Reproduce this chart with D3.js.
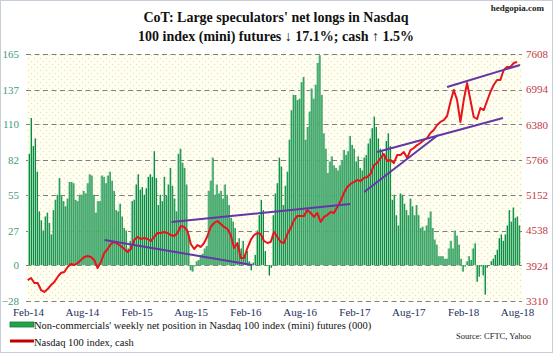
<!DOCTYPE html>
<html>
<head>
<meta charset="utf-8">
<script src="https://cdn.jsdelivr.net/npm/d3@7"></script>
<style>
  body { margin: 0; background: #fff; }
  #chart text { font-family: "Liberation Serif", "Times New Roman", serif; }
</style>
</head>
<body>
<div id="chart"></div>
<script>
// weekly net position of non-commercials, (000) contracts
const netLongs = [
  87, 115, 93, 99, 73, 42, 35, 27, 38, 41, 33, 24, 43, 51, 55, 68, 54, 50, 46, 52, 65, 65, 64, 51, 50, 55, 55, 58, 56, 64, 71, 70, 55, 41, 50, 50, 70, 69, 64, 70, 73, 66, 58,
  43, 42, 48, 38, 29, 27, 13, 19, 50, 51, 63, 71, 59, 61, 55, 60, 69, 71, 69, 89, 68, 47, 55, 50, 69, 54, 63, 76, 62, 52, 42, 87, 91, 80, 76, 63, 24, -4, -5, -1, 3, 4, 8, 9, 13, 15, 58,
  66, 84, 55, 63, 56, 58, 52, 63, 55, 47, 37, 34, 29, 16, 21, 13, 19, 8, 11, 3, -4, 2, 8, 27, 39, 51, 43, 11, 0, -8, -2, 39, 56, 64, 84, 77, 47, 62, 73, 98, 121, 133, 133, 129, 130, 143, 147,
  98, 108, 120, 138, 130, 141, 158, 164, 133, 103, 91, 72, 81, 85, 78, 76, 74, 78, 82, 90, 86, 89, 101, 94, 91, 81, 85, 76, 74, 84, 86, 95, 99, 107, 116, 108, 99, 91, 89, 86, 97, 103, 93, 51, 55, 39, 31,
  56, 55, 48, 43, 39, 52, 46, 39, 47, 39, 29, 30, 27, 31, 37, 42, 29, 20, 16, 7, 7, 7, 5, 5, 13, 19, 13, 27, 23, 16, 5, -5, -1, 3, 7, 4, 13, 17, -13, -9, -1, -8, -23, -2, 0, 3, 5, 8, 12,
  21, 24, 19, 24, 31, 43, 34, 45, 37, 38, 31
];

// Nasdaq 100 cash, sampled along the period
const nasdaqCash = [
  3675, 3710, 3623, 3623, 3501, 3467, 3519, 3588, 3641, 3728,
  3797, 3815, 3902, 3954, 3936, 3971, 4023, 4076, 4093, 4076,
  4023, 3884, 3989, 4145, 4215, 4302, 4337, 4302, 4267, 4215,
  4163, 4215, 4371, 4424, 4389, 4406, 4389, 4354, 4424, 4493,
  4493, 4511, 4493, 4458, 4441, 4493, 4615, 4598, 4528, 4302,
  4215, 4284, 4250, 4319, 4441, 4598, 4667, 4702, 4650, 4598,
  4563, 4458, 4232, 4319, 4058, 4058, 4232, 4371, 4458, 4493,
  4476, 4354, 4319, 4337, 4511, 4424, 4337, 4319, 4476, 4580,
  4719, 4789, 4789, 4789, 4893, 4841, 4772, 4841, 4685, 4772,
  4806, 4859, 4841, 4946, 5050, 5189, 5294, 5346, 5381, 5415,
  5398, 5450, 5468, 5520, 5676, 5711, 5798, 5868, 5746, 5763,
  5711, 5850, 5850, 5903, 5798, 5937, 5972, 6024, 6059, 6111,
  6146, 6233, 6285, 6372, 6425, 6459, 6529, 6773, 6981, 6807,
  6425, 6807, 7103, 6807, 6512, 6477, 6668, 6633, 6790, 6947,
  7068, 7155, 7155, 7329, 7382, 7382, 7451, 7469
];

// trend lines: [start sample, start value, end sample, end value]
const trendLines = [
  [23.1, 4371, 67.5, 3936],
  [43.2, 4685, 96.9, 4998],
  [101.1, 5207, 123.3, 6198],
  [105, 5903, 142.8, 6494],
  [126, 7034, 147.9, 7416]
];

const leftTicks = [-28, 0, 27, 55, 82, 110, 137, 165];
const rightTicks = [3310, 3924, 4538, 5152, 5766, 6380, 6994, 7608];
const xTickLabels = ["Feb-14", "Aug-14", "Feb-15", "Aug-15", "Feb-16", "Aug-16", "Feb-17", "Aug-17", "Feb-18", "Aug-18"];

const titleLines = ["CoT: Large speculators' net longs in Nasdaq", "100 index (mini) futures \u2193 17.1%; cash \u2191 1.5%"];
const legendItems = ["Non-commercials' weekly net position in Nasdaq 100 index (mini) futures (000)", "Nasdaq 100 index, cash"];

class cotChart {
  constructor(_el) {
    this.el = _el;
    this.initVis();
  }

  initVis() {
    let vis = this;
    const width = 553, height = 353;
    const plot = {left: 26, right: 522, top: 54, bottom: 301};

    vis.svg = d3.select(vis.el).append("svg").attr("width", width).attr("height", height);

    const defs = vis.svg.append("defs");
    const pat = defs.append("pattern").attr("id", "dots").attr("patternUnits", "userSpaceOnUse")
      .attr("width", 6).attr("height", 6);
    pat.append("rect").attr("width", 6).attr("height", 6).attr("fill", "#fffff3");
    pat.append("circle").attr("cx", 1.5).attr("cy", 1.5).attr("r", 0.7).attr("fill", "#ece3a8");
    pat.append("circle").attr("cx", 4.5).attr("cy", 4.5).attr("r", 0.7).attr("fill", "#ece3a8");

    vis.svg.append("rect").attr("x", 0.5).attr("y", 0.5).attr("width", width - 1).attr("height", height - 1)
      .attr("fill", "#fff").attr("stroke", "#c6cfd9");

    vis.svg.append("rect").attr("x", plot.left).attr("y", plot.top)
      .attr("width", plot.right - plot.left).attr("height", plot.bottom - plot.top).attr("fill", "url(#dots)");

    // scales
    const parseT = d3.timeParse("%b-%y");
    vis.xTime = d3.scaleTime().domain([parseT("Feb-14"), parseT("Aug-18")]).range([28, 517]);
    vis.yLeft = d3.scaleLinear().domain([-28, 165]).range([plot.bottom, plot.top]);
    vis.yRight = d3.scaleLinear().domain([3310, 7608]).range([plot.bottom, plot.top]);
    vis.xBar = d3.scaleLinear().domain([0, netLongs.length - 1])
      .range([vis.xTime(new Date(2014, 1, 4)), vis.xTime(new Date(2018, 7, 8))]);
    vis.xLine = d3.scaleLinear().domain([0, nasdaqCash.length - 1])
      .range([vis.xTime(new Date(2014, 0, 31)), vis.xTime(new Date(2018, 7, 1))]);

    // grid
    vis.svg.append("g").selectAll("line").data(leftTicks).join("line")
      .attr("x1", plot.left).attr("x2", plot.right)
      .attr("y1", d => Math.round(vis.yLeft(d)) + 0.5).attr("y2", d => Math.round(vis.yLeft(d)) + 0.5)
      .attr("stroke", "#7f7f7f").attr("stroke-dasharray", "5,3.5");

    // axes
    const gl = vis.svg.append("g").attr("transform", "translate(19,0)")
      .call(d3.axisLeft(vis.yLeft).tickValues(leftTicks).tickSize(0).tickPadding(0));
    gl.select(".domain").remove();
    gl.selectAll("text").attr("fill", "#3f9a7c").style("font-size", "11px");

    const gr = vis.svg.append("g").attr("transform", "translate(526,0)")
      .call(d3.axisRight(vis.yRight).tickValues(rightTicks).tickFormat(d3.format("d")).tickSize(0).tickPadding(0));
    gr.select(".domain").remove();
    gr.selectAll("text").attr("fill", "#c0393f").style("font-size", "11px");

    const gx = vis.svg.append("g").attr("transform", "translate(0,308)")
      .call(d3.axisBottom(vis.xTime).tickValues(xTickLabels.map(parseT)).tickFormat(d3.timeFormat("%b-%y")).tickSize(0).tickPadding(0));
    gx.select(".domain").remove();
    gx.selectAll("text").attr("fill", "#1e2f5a").style("font-size", "11px");

    // title
    vis.svg.append("g").selectAll("text").data(titleLines).join("text")
      .attr("x", 276).attr("y", (d, i) => 22 + i * 19)
      .attr("text-anchor", "middle").style("font-size", "14px").style("font-weight", "bold")
      .attr("fill", "#111").text(d => d);

    vis.svg.append("text").attr("x", 544).attr("y", 11).attr("text-anchor", "end")
      .style("font-size", "9px").style("font-weight", "bold").attr("fill", "#222").text("hedgopia.com");

    // legend
    const lg = vis.svg.append("g");
    lg.append("rect").attr("x", 10).attr("y", 322).attr("width", 24).attr("height", 5)
      .attr("fill", "#22a34a").attr("stroke", "#137a33").attr("stroke-width", 0.8);
    lg.append("line").attr("x1", 10).attr("x2", 34).attr("y1", 341).attr("y2", 341)
      .attr("stroke", "#c00000").attr("stroke-width", 3);
    lg.selectAll("text").data(legendItems).join("text")
      .attr("x", 34).attr("y", (d, i) => 328.5 + i * 17)
      .style("font-size", "10.5px").attr("fill", "#111").text(d => d);

    vis.svg.append("text").attr("x", 531).attr("y", 339).attr("text-anchor", "end")
      .style("font-size", "8.5px").attr("fill", "#222").text("Source: CFTC, Yahoo");

    vis.updateVis();
  }

  updateVis() {
    let vis = this;
    const y0 = vis.yLeft(0);

    vis.svg.append("g").selectAll("rect").data(netLongs).join("rect")
      .attr("x", (d, i) => vis.xBar(i) - 1)
      .attr("width", 2)
      .attr("y", d => Math.min(vis.yLeft(d), y0))
      .attr("height", d => Math.abs(vis.yLeft(d) - y0))
      .attr("fill", "#92d8b4");

    vis.svg.append("g").selectAll("line").data(netLongs).join("line")
      .attr("x1", (d, i) => vis.xBar(i) + 0.6).attr("x2", (d, i) => vis.xBar(i) + 0.6)
      .attr("y1", y0).attr("y2", d => vis.yLeft(d))
      .attr("stroke", "#0f8638").attr("stroke-width", 1);

    const line = d3.line().x((d, i) => vis.xLine(i)).y(d => vis.yRight(d));
    vis.svg.append("path").datum(nasdaqCash).attr("d", line)
      .attr("fill", "none").attr("stroke", "#e8141b").attr("stroke-width", 2).attr("stroke-linejoin", "round");

    vis.svg.append("g").selectAll("line").data(trendLines).join("line")
      .attr("x1", d => vis.xLine(d[0])).attr("y1", d => vis.yRight(d[1]))
      .attr("x2", d => vis.xLine(d[2])).attr("y2", d => vis.yRight(d[3]))
      .attr("stroke", "#6337a6").attr("stroke-width", 2);
  }
}

new cotChart("#chart");
</script>
</body>
</html>
